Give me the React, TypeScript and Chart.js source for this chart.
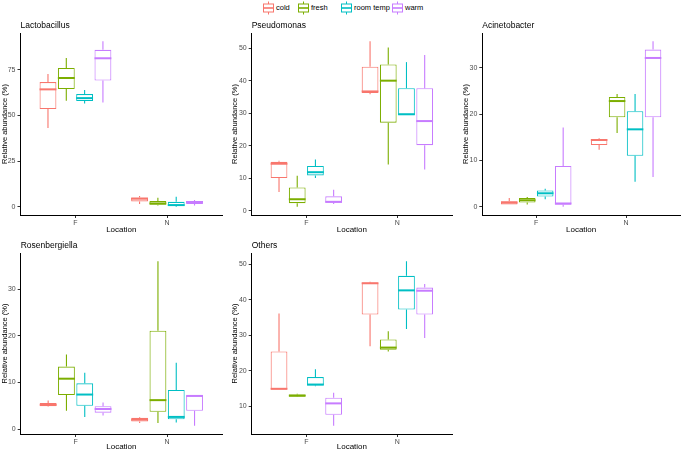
import React, { useEffect, useRef } from 'react';
import { Chart, registerables } from 'chart.js';

Chart.register(...registerables);
Chart.defaults.font.family = '"Liberation Sans", Arial, Helvetica, sans-serif';

// ---------- data ----------
const locations = ['F', 'N'];
const groups = ['cold', 'fresh', 'room temp', 'warm'];

// five-number summaries: [lower whisker, Q1, median, Q3, upper whisker] for F and N
const lactobacillusCold = [[43.0, 53.4, 64.2, 68.2, 72.6], [1.5, 2.9, 4.4, 5.1, 5.9]];
const lactobacillusFresh = [[58.0, 64.4, 70.4, 75.9, 81.4], [0.7, 1.1, 1.8, 3.1, 4.9]];
const lactobacillusRoom = [[56.5, 57.8, 59.4, 61.6, 63.8], [0.0, 0.4, 0.9, 2.7, 5.5]];
const lactobacillusWarm = [[57.0, 69.0, 81.2, 85.8, 90.5], [0.7, 1.5, 2.6, 3.1, 3.7]];

const pseudomonasCold = [[5.8, 10.1, 14.5, 15.1, 15.4], [35.8, 36.2, 36.7, 44.3, 52.1]];
const pseudomonasFresh = [[1.3, 2.4, 3.6, 7.2, 10.8], [14.3, 27.1, 40.0, 45.0, 50.2]];
const pseudomonasRoom = [[10.1, 10.9, 11.9, 13.8, 15.8], [29.4, 29.4, 29.7, 37.7, 45.7]];
const pseudomonasWarm = [[2.1, 2.5, 2.8, 4.5, 6.5], [12.7, 20.2, 27.6, 37.7, 47.9]];

const acinetobacterCold = [[0.5, 0.5, 0.9, 1.2, 1.9], [12.3, 13.3, 14.4, 14.6, 14.8]];
const acinetobacterFresh = [[0.5, 0.9, 1.4, 1.9, 2.1], [15.9, 19.3, 22.8, 23.7, 24.3]];
const acinetobacterRoom = [[1.6, 2.2, 2.9, 3.5, 3.9], [5.4, 11.0, 16.7, 20.6, 24.3]];
const acinetobacterWarm = [[0.0, 0.4, 0.7, 8.8, 17.1], [6.4, 19.3, 32.1, 33.9, 35.7]];

const rosenbergiellaCold = [[4.8, 4.9, 5.2, 5.6, 6.1], [1.3, 1.6, 2.0, 2.4, 2.6]];
const rosenbergiellaFresh = [[3.9, 7.3, 10.8, 13.4, 16.0], [1.3, 3.7, 6.2, 21.1, 36.0]];
const rosenbergiellaRoom = [[2.6, 5.0, 7.4, 9.8, 12.1], [1.4, 2.1, 2.6, 8.4, 14.2]];
const rosenbergiellaWarm = [[2.9, 3.5, 4.3, 4.9, 5.7], [0.7, 3.9, 7.1, 7.2, 7.2]];

const othersCold = [[14.7, 14.7, 14.9, 25.4, 36.1], [26.9, 35.8, 44.6, 44.8, 45.0]];
const othersFresh = [[12.6, 12.7, 13.0, 13.3, 13.5], [25.4, 25.9, 26.5, 28.8, 31.1]];
const othersRoom = [[15.6, 15.8, 16.1, 18.2, 20.4], [31.7, 37.2, 42.6, 46.7, 50.8]];
const othersWarm = [[4.5, 7.6, 10.8, 12.4, 13.8], [29.2, 35.8, 42.5, 43.4, 44.4]];

const lactobacillusTicks = [0, 25, 50, 75];
const pseudomonasTicks = [0, 10, 20, 30, 40, 50];
const acinetobacterTicks = [0, 10, 20, 30];
const rosenbergiellaTicks = [0, 10, 20, 30];
const othersTicks = [10, 20, 30, 40, 50];

const panelTitles = ['Lactobacillus', 'Pseudomonas', 'Acinetobacter', 'Rosenbergiella', 'Others'];
const panelSeries = [
  [lactobacillusCold, lactobacillusFresh, lactobacillusRoom, lactobacillusWarm],
  [pseudomonasCold, pseudomonasFresh, pseudomonasRoom, pseudomonasWarm],
  [acinetobacterCold, acinetobacterFresh, acinetobacterRoom, acinetobacterWarm],
  [rosenbergiellaCold, rosenbergiellaFresh, rosenbergiellaRoom, rosenbergiellaWarm],
  [othersCold, othersFresh, othersRoom, othersWarm],
];
const panelTicks = [lactobacillusTicks, pseudomonasTicks, acinetobacterTicks, rosenbergiellaTicks, othersTicks];

// ---------- styles / layout ----------
const groupColors = ['#F8766D', '#7CAE00', '#00BFC4', '#C77CFF'];
const panelLayout = [
  { left: 0, top: 18, width: 224, height: 217, yw: 20.5, xh: 20, padTop: 15 },
  { left: 230, top: 18, width: 224, height: 217, yw: 21.7, xh: 20, padTop: 15 },
  { left: 461, top: 18, width: 221, height: 217, yw: 21.3, xh: 20, padTop: 15 },
  { left: 0, top: 236, width: 224, height: 216, yw: 20.7, xh: 18, padTop: 17 },
  { left: 230, top: 236, width: 224, height: 216, yw: 21.7, xh: 18, padTop: 17 },
];
const legendPos = [
  { key: 263, text: 276 },
  { key: 298, text: 311 },
  { key: 341, text: 354 },
  { key: 392, text: 405 },
];
const FONT = '"Liberation Sans", Arial, Helvetica, sans-serif';

const boxExtras = {
  id: 'boxExtras',
  afterDatasetsDraw(chart: any) {
    const ctx = chart.ctx;
    const ys = chart.scales.y;
    chart.data.datasets.forEach((ds: any, di: number) => {
      const meta = chart.getDatasetMeta(di);
      meta.data.forEach((bar: any, i: number) => {
        const s = ds.stats[i];
        const { x, width } = bar.getProps(['x', 'width'], true);
        ctx.save();
        ctx.strokeStyle = ds.borderColor;
        ctx.lineWidth = 1.1;
        ctx.beginPath();
        ctx.moveTo(x, ys.getPixelForValue(s[3]));
        ctx.lineTo(x, ys.getPixelForValue(s[4]));
        ctx.moveTo(x, ys.getPixelForValue(s[1]));
        ctx.lineTo(x, ys.getPixelForValue(s[0]));
        ctx.stroke();
        ctx.lineWidth = 2;
        ctx.beginPath();
        const ym = ys.getPixelForValue(s[2]);
        ctx.moveTo(x - width / 2, ym);
        ctx.lineTo(x + width / 2, ym);
        ctx.stroke();
        ctx.restore();
      });
    });
  },
};

function makeTitlePlugin(text: string) {
  return {
    id: 'panelTitle',
    afterDraw(chart: any) {
      const ctx = chart.ctx;
      ctx.save();
      ctx.font = `8.5px ${FONT}`;
      ctx.fillStyle = '#000';
      ctx.textBaseline = 'middle';
      ctx.textAlign = 'left';
      ctx.fillText(text, chart.chartArea.left, chart.chartArea.top - 7.5);
      ctx.restore();
    },
  };
}

function Panel({ index }: { index: number }) {
  const ref = useRef<HTMLCanvasElement>(null);
  const lay = panelLayout[index];
  useEffect(() => {
    const series = panelSeries[index];
    const all = series.flat(2) as number[];
    const lo = Math.min(...all);
    const hi = Math.max(...all);
    const pad = (hi - lo) * 0.05;
    const datasets = groups.map((g, gi) => ({
      label: g,
      data: locations.map((_, li) => ({ x: li + 1, y: [series[gi][li][1], series[gi][li][3]] })),
      stats: series[gi],
      backgroundColor: '#ffffff',
      borderColor: groupColors[gi],
      borderWidth: 1.1,
      borderSkipped: false,
      categoryPercentage: 0.8,
      barPercentage: 0.92,
    }));
    const tickFont = { size: 7, family: FONT };
    const chart = new Chart(ref.current as HTMLCanvasElement, {
      type: 'bar',
      data: { datasets } as any,
      options: {
        animation: false,
        responsive: false,
        devicePixelRatio: 1,
        events: [],
        layout: { padding: { left: 0, right: 2, top: lay.padTop, bottom: 0 } },
        plugins: { legend: { display: false }, tooltip: { enabled: false } },
        scales: {
          x: {
            type: 'linear',
            offset: false,
            min: 0.4,
            max: 2.6,
            afterBuildTicks: (s: any) => {
              s.ticks = [{ value: 1 }, { value: 2 }];
            },
            afterFit: (s: any) => {
              s.height = lay.xh;
            },
            ticks: {
              autoSkip: false,
              maxRotation: 0,
              padding: 1,
              color: '#4D4D4D',
              font: tickFont,
              callback: (v: any) => locations[Math.round(v) - 1] ?? '',
            },
            grid: { display: true, offset: false, drawOnChartArea: false, drawTicks: true, tickLength: 3, color: '#333' },
            border: { display: true, color: '#000', width: 1 },
            title: { display: true, text: 'Location', color: '#000', font: { size: 8, family: FONT }, padding: 0 },
          },
          y: {
            type: 'linear',
            min: lo - pad,
            max: hi + pad,
            beginAtZero: false,
            afterBuildTicks: (s: any) => {
              s.ticks = panelTicks[index].map((v) => ({ value: v }));
            },
            afterFit: (s: any) => {
              s.width = lay.yw;
            },
            ticks: { padding: 2, color: '#4D4D4D', font: tickFont, callback: (v: any) => String(v) },
            grid: { display: true, drawOnChartArea: false, drawTicks: true, tickLength: 3, color: '#333' },
            border: { display: true, color: '#000', width: 1 },
            title: {
              display: true,
              text: 'Relative abundance (%)',
              color: '#000',
              font: { size: 7.5, family: FONT },
              padding: 0,
            },
          },
        },
      } as any,
      plugins: [boxExtras, makeTitlePlugin(panelTitles[index])],
    });
    return () => chart.destroy();
  }, [index]);
  return (
    <canvas
      ref={ref}
      width={lay.width}
      height={lay.height}
      style={{ position: 'absolute', left: lay.left, top: lay.top, width: lay.width, height: lay.height }}
    />
  );
}

function LegendKey({ color }: { color: string }) {
  return (
    <svg width={11} height={14} viewBox="0 0 11 14" style={{ display: 'block' }}>
      <line x1={5.5} y1={0.5} x2={5.5} y2={3} stroke={color} strokeWidth={1} />
      <line x1={5.5} y1={11} x2={5.5} y2={13.5} stroke={color} strokeWidth={1} />
      <rect x={0.5} y={3} width={10} height={8} fill="#fff" stroke={color} strokeWidth={1} />
      <line x1={0.5} y1={7} x2={10.5} y2={7} stroke={color} strokeWidth={1.6} />
    </svg>
  );
}

export default function App() {
  return (
    <div
      style={{
        position: 'fixed',
        left: 0,
        top: 0,
        width: 684,
        height: 452,
        background: '#fff',
        overflow: 'hidden',
        fontFamily: FONT,
      }}
    >
      {groups.map((g, gi) => (
        <React.Fragment key={g}>
          <div style={{ position: 'absolute', left: legendPos[gi].key, top: 1 }}>
            <LegendKey color={groupColors[gi]} />
          </div>
          <div
            style={{
              position: 'absolute',
              left: legendPos[gi].text,
              top: 3,
              fontSize: 7.5,
              lineHeight: '10px',
              color: '#000',
              whiteSpace: 'nowrap',
            }}
          >
            {g}
          </div>
        </React.Fragment>
      ))}
      {panelTitles.map((t, i) => (
        <Panel key={t} index={i} />
      ))}
    </div>
  );
}
